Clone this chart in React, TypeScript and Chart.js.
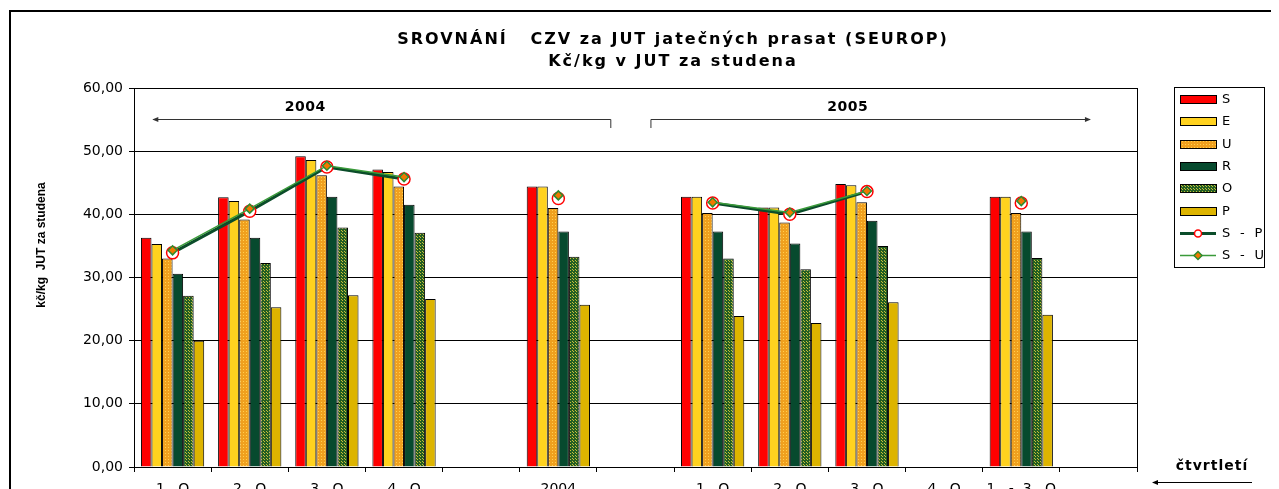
import React, { useEffect, useRef } from 'react';
import { Chart, registerables } from 'chart.js';

Chart.register(...registerables);

const categories = ['1.  Q', '2.  Q', '3.  Q', '4.  Q', '', '2004', '', '1.  Q', '2.  Q', '3.  Q', '4.  Q', '1.  -  3.  Q', ''];
const seriesS = [36.3, 42.7, 49.2, 47.1, null, 44.4, null, 42.8, 41.1, 44.8, null, 42.8, null];
const seriesE = [35.3, 42.1, 48.6, 46.7, null, 44.4, null, 42.8, 41.1, 44.6, null, 42.8, null];
const seriesU = [33.0, 39.2, 46.2, 44.4, null, 41.0, null, 40.2, 38.7, 41.9, null, 40.2, null];
const seriesR = [30.6, 36.3, 42.8, 41.5, null, 37.3, null, 37.3, 35.4, 39.0, null, 37.3, null];
const seriesO = [27.1, 32.3, 37.9, 37.1, null, 33.3, null, 33.0, 31.3, 35.0, null, 33.1, null];
const seriesP = [20.0, 25.3, 27.2, 26.6, null, 25.7, null, 23.9, 22.8, 26.1, null, 24.1, null];
const seriesSP = [33.9, 40.5, 47.5, 45.6, null, 42.5, null, 41.8, 40.0, 43.6, null, 41.8, null];
const seriesSU = [34.3, 40.9, 47.7, 45.9, null, 43.0, null, 41.9, 40.3, 43.7, null, 42.1, null];
const yMin = 0;
const yMax = 60;
const yStep = 10;

const titleLines = ['SROVNÁNÍ   CZV za JUT jatečných prasat (SEUROP)', 'Kč/kg v JUT za studena'];
const yTitle = 'kč/kg  JUT za studena';
const periodLabels = ['2004', '2005'];
const xTitle = 'čtvrtletí';

const colS = '#FF0000';
const colE = '#FFD21F';
const colR = '#074A2E';
const colP = '#DDB400';
const colSP = '#0B4D2A';
const colSU = '#3A9A3A';

function makePattern(base: string, dot: string, size: number, dots: number[][]) {
  const c = document.createElement('canvas');
  c.width = size;
  c.height = size;
  const g = c.getContext('2d')!;
  g.fillStyle = base;
  g.fillRect(0, 0, size, size);
  g.fillStyle = dot;
  dots.forEach(([x, y]) => g.fillRect(x, y, 1, 1));
  const tmp = document.createElement('canvas').getContext('2d')!;
  return tmp.createPattern(c, 'repeat') as CanvasPattern;
}

export default function App() {
  const ref = useRef<HTMLCanvasElement>(null);
  useEffect(() => {
    const canvas = ref.current!;
    const patU = makePattern('#F0A01E', '#FFD050', 3, [[1, 1]]);
    const patO = makePattern('#235E22', '#C8BE3A', 3, [[1, 1], [0, 0]]);

    const font = 'DejaVu Sans';

    const arrowHead = (ctx: CanvasRenderingContext2D, x: number, y: number, dir: number) => {
      ctx.beginPath();
      ctx.moveTo(x, y);
      ctx.lineTo(x - dir * 6, y - 2.5);
      ctx.lineTo(x - dir * 6, y + 2.5);
      ctx.closePath();
      ctx.fill();
    };

    const decor = {
      id: 'decor',
      beforeDraw(chart: any) {
        const ctx = chart.ctx;
        ctx.save();
        ctx.fillStyle = '#fff';
        ctx.fillRect(0, 0, chart.width, chart.height);
        ctx.restore();
      },
      afterDraw(chart: any) {
        const ctx: any = chart.ctx;
        const a = chart.chartArea;
        const cw = (a.right - a.left) / categories.length;
        ctx.save();
        // outer frame
        ctx.strokeStyle = '#000';
        ctx.lineWidth = 2;
        ctx.strokeRect(2, 3, 1400, 800);
        // plot border
        ctx.lineWidth = 1;
        ctx.strokeStyle = '#000';
        ctx.strokeRect(Math.round(a.left) + 0.5, Math.round(a.top) + 0.5, Math.round(a.right - a.left), Math.round(a.bottom - a.top));
        // title
        ctx.fillStyle = '#000';
        ctx.textAlign = 'center';
        ctx.textBaseline = 'middle';
        ctx.font = `bold 16px "${font}"`;
        ctx.letterSpacing = '2px';
        ctx.fillText(titleLines[0], 665, 32);
        ctx.fillText(titleLines[1], 665, 54);
        ctx.letterSpacing = '0px';
        // y title
        ctx.save();
        ctx.translate(34, 237);
        ctx.rotate(-Math.PI / 2);
        ctx.font = 'bold 12px "Liberation Sans"';
        ctx.fillText(yTitle, 0, 0);
        ctx.restore();
        // period annotations
        const ly = a.top + 31;
        ctx.strokeStyle = '#333';
        ctx.fillStyle = '#333';
        ctx.lineWidth = 1;
        const x1 = a.left + 0.25 * cw;
        const x2 = a.left + 6.18 * cw;
        const x3 = a.left + 6.7 * cw;
        const x4 = a.left + 12.39 * cw;
        ctx.beginPath();
        ctx.moveTo(x1, ly + 0.5);
        ctx.lineTo(x2, ly + 0.5);
        ctx.lineTo(x2, ly + 9);
        ctx.moveTo(x3, ly + 9);
        ctx.lineTo(x3, ly + 0.5);
        ctx.lineTo(x4, ly + 0.5);
        ctx.stroke();
        arrowHead(ctx, x1 - 1, ly + 0.5, -1);
        arrowHead(ctx, x4 + 1, ly + 0.5, 1);
        ctx.fillStyle = '#000';
        ctx.font = `bold 14px "${font}"`;
        ctx.letterSpacing = '0.5px';
        ctx.fillText(periodLabels[0], a.left + 2.22 * cw, ly - 12);
        ctx.fillText(periodLabels[1], a.left + 9.25 * cw, ly - 12);
        // x title
        ctx.font = `bold 14px "${font}"`;
        ctx.letterSpacing = '1px';
        ctx.fillText(xTitle, 1204, 458);
        ctx.letterSpacing = '0px';
        ctx.strokeStyle = '#000';
        ctx.fillStyle = '#000';
        ctx.beginPath();
        ctx.moveTo(1146, 474.5);
        ctx.lineTo(1244, 474.5);
        ctx.stroke();
        arrowHead(ctx, 1144, 474.5, -1);
        // legend
        const lx = 1166, lyTop = 79, lw = 90, lh = 180;
        ctx.fillStyle = '#fff';
        ctx.fillRect(lx, lyTop, lw, lh);
        ctx.strokeStyle = '#000';
        ctx.lineWidth = 1;
        ctx.strokeRect(lx + 0.5, lyTop + 0.5, lw, lh);
        const items: any[] = chart.data.datasets;
        ctx.font = `13px "${font}"`;
        ctx.letterSpacing = '0.5px';
        ctx.textAlign = 'left';
        items.forEach((ds, i) => {
          const y = Math.round(lyTop + 12 + i * 22.3);
          const sx = 1172, sw = 36;
          if (ds.type === 'line') {
            ctx.strokeStyle = ds.borderColor;
            ctx.lineWidth = ds.borderWidth;
            ctx.beginPath();
            ctx.moveTo(sx, y + 0.5);
            ctx.lineTo(sx + sw, y + 0.5);
            ctx.stroke();
            const cx = sx + sw / 2;
            ctx.lineWidth = ds.pointBorderWidth;
            ctx.strokeStyle = ds.pointBorderColor;
            ctx.fillStyle = ds.pointBackgroundColor;
            ctx.beginPath();
            if (ds.pointStyle === 'circle') {
              ctx.arc(cx, y + 0.5, 3.5, 0, Math.PI * 2);
            } else {
              ctx.moveTo(cx, y - 3.5);
              ctx.lineTo(cx + 4, y + 0.5);
              ctx.lineTo(cx, y + 4.5);
              ctx.lineTo(cx - 4, y + 0.5);
              ctx.closePath();
            }
            ctx.fill();
            ctx.stroke();
          } else {
            ctx.fillStyle = ds.backgroundColor;
            ctx.fillRect(sx, y - 4, sw, 8);
            ctx.strokeStyle = '#000';
            ctx.lineWidth = 1;
            ctx.strokeRect(sx + 0.5, y - 3.5, sw, 8);
          }
          ctx.fillStyle = '#000';
          ctx.fillText(ds.label, 1214, y + 1);
        });
        ctx.letterSpacing = '0px';
        ctx.restore();
      },
    };

    const barDs = (label: string, data: (number | null)[], bg: any) => ({
      type: 'bar' as const,
      label,
      data,
      backgroundColor: bg,
      borderColor: '#000',
      borderWidth: 1,
      borderSkipped: 'bottom' as const,
      order: 2,
      categoryPercentage: 0.82,
      barPercentage: 1.0,
    });

    const chart = new Chart(canvas, {
      type: 'bar',
      data: {
        labels: categories,
        datasets: [
          barDs('S', seriesS, colS),
          barDs('E', seriesE, colE),
          barDs('U', seriesU, patU),
          barDs('R', seriesR, colR),
          barDs('O', seriesO, patO),
          barDs('P', seriesP, colP),
          {
            type: 'line',
            label: 'S  -  P',
            data: seriesSP,
            borderColor: colSP,
            borderWidth: 3,
            pointStyle: 'circle',
            pointRadius: 6,
            pointBorderColor: '#FF0000',
            pointBackgroundColor: '#FFFFFF',
            pointBorderWidth: 1.5,
            spanGaps: false,
            order: 1,
          } as any,
          {
            type: 'line',
            label: 'S  -  U',
            data: seriesSU,
            borderColor: colSU,
            borderWidth: 1.5,
            pointStyle: 'rectRot',
            pointRadius: 4.5,
            pointBorderColor: '#2E8B2E',
            pointBackgroundColor: '#F07800',
            pointBorderWidth: 1.5,
            spanGaps: false,
            order: 0,
          } as any,
        ],
      },
      options: {
        responsive: false,
        animation: false,
        devicePixelRatio: 1,
        layout: { padding: { top: 80, right: 142, left: 0, bottom: 0 } },
        plugins: {
          legend: { display: false },
          title: { display: false },
          tooltip: { enabled: false },
        },
        scales: {
          x: {
            offset: true,
            grid: { display: true, drawOnChartArea: false, drawTicks: true, tickLength: 5, color: '#000', offset: true },
            border: { display: true, color: '#000', width: 1 },
            ticks: { color: '#000', font: { family: font, size: 14 }, padding: 9, maxRotation: 0, autoSkip: false },
            afterFit: (s: any) => { s.height = 41; },
          },
          y: {
            min: yMin,
            max: yMax,
            grid: { color: '#000', lineWidth: 1, drawTicks: true, tickLength: 5 },
            border: { display: true, color: '#000', width: 1 },
            ticks: {
              stepSize: yStep,
              color: '#000',
              font: { family: font, size: 14 },
              padding: 6,
              callback: (v: any) => Number(v).toFixed(2).replace('.', ','),
            },
            afterFit: (s: any) => { s.width = 126; },
          },
        },
      },
      plugins: [decor],
    });
    return () => chart.destroy();
  }, []);

  return (
    <div style={{ position: 'relative', width: 1271, height: 481, overflow: 'hidden' }}>
      <canvas ref={ref} width={1271} height={500} style={{ display: 'block' }} />
    </div>
  );
}
